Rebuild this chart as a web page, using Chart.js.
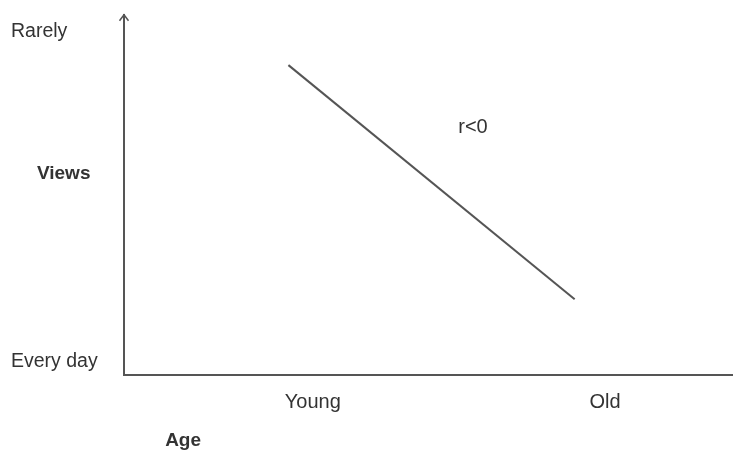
<!DOCTYPE html>
<html>
<head>
<meta charset="utf-8">
<script src="https://cdn.jsdelivr.net/npm/chart.js@4"></script>
<style>
  body { margin: 0; background: #fff; }
  #wrap { width: 733px; height: 450px; }
</style>
</head>
<body>
<div id="wrap"><canvas id="myChart"></canvas></div>
<script>
// data (axis units 0..100)
const lineX = [27, 74];
const lineY = [86, 21];

// tick labels
const xTickValues = [31, 79];
const xTickLabels = ['Young', 'Old'];
const yTickValues = [95.3, 3.6];
const yTickLabels = ['Rarely', 'Every day'];

// extra text
const noteTexts = ['Views', 'Age', 'r<0'];
const noteX = [-9.9, 9.7, 57.3];
const noteY = [55.8, -18.2, 68.8];
const noteBold = [true, true, false];

const inkColor = '#555';
const textColor = '#333';
const fontFamily = '"Liberation Sans", Arial, sans-serif';

// arrow head on top of y axis + loose text
const extrasPlugin = {
    id: 'extras',
    afterDraw(chart) {
        const ctx = chart.ctx;
        const xs = chart.scales.x;
        const ys = chart.scales.y;
        const ax = Math.round(xs.left);
        const top = chart.chartArea.top;
        ctx.save();
        ctx.strokeStyle = inkColor;
        ctx.lineWidth = 1.5;
        ctx.beginPath();
        ctx.moveTo(ax - 4.5, top + 6);
        ctx.lineTo(ax, top);
        ctx.lineTo(ax + 4.5, top + 6);
        ctx.stroke();

        ctx.fillStyle = textColor;
        ctx.textAlign = 'center';
        ctx.textBaseline = 'middle';
        for (let i = 0; i < noteTexts.length; i++) {
            ctx.font = (noteBold[i] ? 'bold 19px ' : '20px ') + fontFamily;
            ctx.fillText(noteTexts[i], xs.getPixelForValue(noteX[i]), ys.getPixelForValue(noteY[i]));
        }
        ctx.restore();
    }
};

const ctx = document.getElementById('myChart');
const myChart = new Chart(ctx, {
    type: 'line',
    data: {
        datasets: [{
            data: lineX.map((x, i) => ({ x: x, y: lineY[i] })),
            borderColor: inkColor,
            borderWidth: 2,
            pointRadius: 0,
            fill: false
        }]
    },
    options: {
        responsive: true,
        maintainAspectRatio: false,
        animation: false,
        layout: { padding: { top: 13, left: 11, right: 0, bottom: 0 } },
        plugins: {
            legend: { display: false },
            tooltip: { enabled: false }
        },
        scales: {
            x: {
                type: 'linear',
                min: 0,
                max: 100,
                grid: { display: false, drawTicks: false },
                border: { display: true, color: inkColor, width: 2 },
                afterBuildTicks(scale) {
                    scale.ticks = xTickValues.map(v => ({ value: v }));
                },
                afterFit(scale) { scale.height = 75; },
                ticks: {
                    autoSkip: false,
                    maxRotation: 0,
                    padding: 15,
                    color: textColor,
                    font: { family: fontFamily, size: 20 },
                    callback: (v) => xTickLabels[xTickValues.indexOf(v)]
                }
            },
            y: {
                type: 'linear',
                min: 0,
                max: 100,
                grid: { display: false, drawTicks: false },
                border: { display: true, color: inkColor, width: 2 },
                afterBuildTicks(scale) {
                    scale.ticks = yTickValues.map(v => ({ value: v }));
                },
                afterFit(scale) { scale.width = 113; },
                ticks: {
                    autoSkip: false,
                    crossAlign: 'far',
                    color: textColor,
                    font: { family: fontFamily, size: 19.5 },
                    callback: (v) => yTickLabels[yTickValues.indexOf(v)]
                }
            }
        }
    },
    plugins: [extrasPlugin]
});
</script>
</body>
</html>
